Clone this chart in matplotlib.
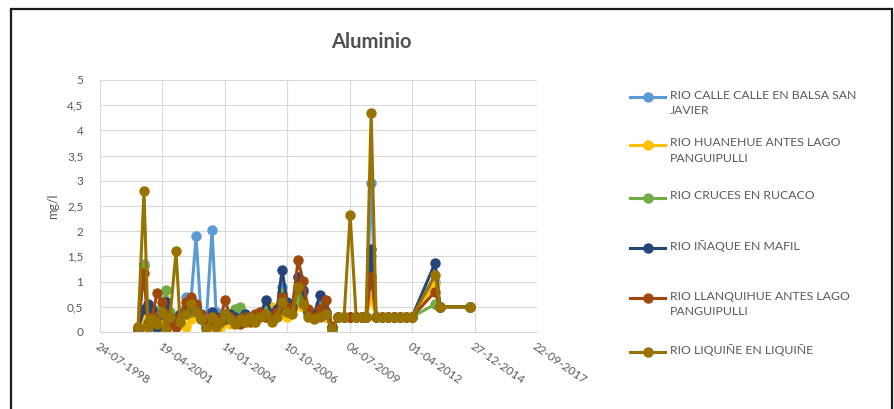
import numpy as np
import pandas as pd
import matplotlib
matplotlib.use("Agg")
from matplotlib import pyplot as plt
from matplotlib.lines import Line2D
from matplotlib.patches import Rectangle
from matplotlib.ticker import FuncFormatter

plt.rcParams['font.family'] = ['Lato', 'DejaVu Sans']

# fechas de muestreo (comunes a todas las estaciones)
fechas = ["2000-03-24", "2000-06-28", "2000-08-31", "2000-11-04", "2001-01-23",
          "2001-04-13", "2001-06-16", "2001-08-19", "2001-11-23", "2002-01-26",
          "2002-05-03", "2002-07-22", "2002-10-10", "2002-12-29", "2003-03-19",
          "2003-06-23", "2003-08-26", "2003-10-30", "2004-01-18", "2004-04-07",
          "2004-06-26", "2004-09-14", "2004-12-03", "2005-02-21", "2005-05-12",
          "2005-07-31", "2005-11-04", "2006-02-08", "2006-04-29", "2006-07-18",
          "2006-10-07", "2006-12-26", "2007-04-01", "2007-06-20", "2007-09-08",
          "2007-12-13", "2008-03-19", "2008-06-23", "2008-09-27", "2009-01-01",
          "2009-04-07", "2009-07-13", "2009-10-17", "2010-01-21", "2010-03-26",
          "2010-06-14", "2010-09-02", "2010-12-07", "2011-03-13", "2011-06-17",
          "2011-09-21", "2011-12-26", "2012-03-31", "2013-04-04", "2013-06-23",
          "2014-10-17"]

calle_calle = [0.02, 1.35, 0.10, 0.05, 0.20, 0.10, 0.30, 0.15, 0.20, 0.30,
               0.70, 0.65, 1.90, 0.30, 0.15, 2.02, 0.40, 0.20, 0.30, 0.25,
               0.20, 0.30, 0.20, 0.25, 0.30, 0.35, 0.30, 0.25, 0.40, 0.90,
               0.40, 0.50, 1.10, 0.80, 0.35, 0.30, 0.55, 0.30, 0.05, 0.30,
               0.30, 0.30, 0.30, 0.30, 0.30, 2.95, 0.30, 0.30, 0.30, 0.30,
               0.30, 0.30, 0.30, 1.00, 0.50, 0.50]
huanehue = [0.05, 0.30, 0.05, 0.15, 0.10, 0.20, 0.05, 0.30, 0.15, 0.20,
            0.10, 0.25, 0.35, 0.30, 0.20, 0.10, 0.15, 0.10, 0.20, 0.15,
            0.30, 0.20, 0.25, 0.30, 0.20, 0.35, 0.30, 0.50, 0.45, 0.40,
            0.30, 0.45, 0.60, 0.50, 0.35, 0.30, 0.40, 0.30, 0.10, 0.30,
            0.30, 0.30, 0.30, 0.30, 0.30, 0.65, 0.30, 0.30, 0.30, 0.30,
            0.30, 0.30, 0.30, 0.95, 0.50, 0.50]
cruces = [0.05, 1.30, 0.20, 0.10, 0.35, 0.50, 0.83, 0.40, 0.30, 0.20,
          0.50, 0.40, 0.45, 0.35, 0.20, 0.30, 0.25, 0.30, 0.35, 0.30,
          0.45, 0.50, 0.35, 0.30, 0.25, 0.40, 0.45, 0.35, 0.40, 0.77,
          0.50, 0.55, 0.70, 0.60, 0.40, 0.35, 0.50, 0.35, 0.05, 0.30,
          0.30, 0.30, 0.30, 0.30, 0.30, 1.50, 0.30, 0.30, 0.30, 0.30,
          0.30, 0.30, 0.30, 0.55, 0.50, 0.50]
inaque = [0.05, 0.45, 0.55, 0.45, 0.10, 0.35, 0.60, 0.30, 0.20, 0.35,
          0.40, 0.60, 0.50, 0.25, 0.10, 0.40, 0.30, 0.20, 0.25, 0.35,
          0.30, 0.20, 0.35, 0.30, 0.25, 0.35, 0.63, 0.35, 0.45, 1.23,
          0.60, 0.50, 1.10, 0.83, 0.40, 0.35, 0.73, 0.40, 0.10, 0.30,
          0.30, 0.30, 0.30, 0.30, 0.30, 1.65, 0.30, 0.30, 0.30, 0.30,
          0.30, 0.30, 0.30, 1.37, 0.50, 0.50]
llanquihue = [0.10, 1.17, 0.15, 0.30, 0.77, 0.60, 0.35, 0.20, 0.10, 0.30,
              0.60, 0.70, 0.55, 0.35, 0.20, 0.30, 0.15, 0.25, 0.63, 0.30,
              0.20, 0.15, 0.30, 0.20, 0.35, 0.40, 0.30, 0.25, 0.40, 0.70,
              0.50, 0.45, 1.42, 1.02, 0.45, 0.30, 0.45, 0.63, 0.10, 0.30,
              0.30, 0.30, 0.30, 0.30, 0.30, 1.10, 0.30, 0.30, 0.30, 0.30,
              0.30, 0.30, 0.30, 0.80, 0.50, 0.50]
liquine = [0.10, 2.80, 0.10, 0.25, 0.15, 0.40, 0.05, 0.30, 1.60, 0.20,
           0.35, 0.55, 0.40, 0.25, 0.05, 0.30, 0.10, 0.20, 0.35, 0.25,
           0.15, 0.25, 0.20, 0.30, 0.20, 0.30, 0.35, 0.20, 0.30, 0.60,
           0.40, 0.35, 0.90, 0.55, 0.30, 0.25, 0.30, 0.35, 0.04, 0.30,
           0.30, 2.32, 0.30, 0.30, 0.30, 4.34, 0.30, 0.30, 0.30, 0.30,
           0.30, 0.30, 0.30, 1.13, 0.50, 0.50]

nombres = ["RIO CALLE CALLE EN BALSA SAN\nJAVIER",
           "RIO HUANEHUE ANTES LAGO\nPANGUIPULLI",
           "RIO CRUCES EN RUCACO",
           "RIO IÑAQUE EN MAFIL",
           "RIO LLANQUIHUE ANTES LAGO\nPANGUIPULLI",
           "RIO LIQUIÑE EN LIQUIÑE"]
series = [calle_calle, huanehue, cruces, inaque, llanquihue, liquine]
colores = ["#5B9BD5", "#FFC000", "#70AD47", "#264478", "#9E480E", "#997300"]

x = pd.to_datetime(fechas)
ticks = pd.date_range("1998-07-24", periods=8, freq="1000D")

W, H = 894, 409
fig = plt.figure(figsize=(W / 100, H / 100), dpi=100)
fig.patches.append(Rectangle((11 / W, -0.01), (892 - 11) / W, 1 - 9 / H + 0.01,
                             transform=fig.transFigure, fill=False,
                             edgecolor="#1a1a1a", linewidth=1.6))

ax = fig.add_axes([100 / W, 1 - 332 / H, 437 / W, 252 / H])
for s, c in zip(series, colores):
    ax.plot(x, s, color=c, linewidth=2.2, marker="o", markersize=6.5)

ax.set_xlim(ticks[0], ticks[-1])
ax.set_ylim(0, 5)
ax.set_yticks(np.arange(0, 5.01, 0.5))
ax.yaxis.set_major_formatter(FuncFormatter(lambda v, p: ("%g" % v).replace(".", ",")))
ax.set_xticks(ticks)
ax.set_xticklabels([t.strftime("%d-%m-%Y") for t in ticks], rotation=-35,
                   ha="left", va="top", rotation_mode="anchor")
ax.grid(True, color="#D9D9D9", linewidth=0.8)
ax.set_axisbelow(True)
for k in ["top", "right", "left"]:
    ax.spines[k].set_visible(False)
ax.spines["bottom"].set_color("#D9D9D9")
ax.tick_params(axis="both", length=0, colors="#595959", labelsize=8.5)
ax.tick_params(axis="y", pad=12)
ax.tick_params(axis="x", pad=6)
ax.set_ylabel("mg/l", color="#595959", fontsize=9, labelpad=6)

fig.text(371 / W, 1 - 42 / H, "Aluminio", ha="center", va="center",
         fontsize=14.5, color="#505050", fontweight="bold")

# leyenda a mano, posiciones como en el original
ys = [97, 145, 198, 248, 298, 352]
for nom, c, yy in zip(nombres, colores, ys):
    yf = 1 - yy / H
    fig.lines.append(Line2D([630 / W, 665 / W], [yf, yf], transform=fig.transFigure,
                            color=c, linewidth=2.2))
    fig.lines.append(Line2D([647.5 / W], [yf], transform=fig.transFigure,
                            color=c, marker="o", markersize=6.5))
    fig.text(670 / W, yf + 7.5 / H, nom, ha="left", va="top", fontsize=8.8,
             color="#595959", linespacing=1.55)

fig.savefig("out.png", dpi=100)
